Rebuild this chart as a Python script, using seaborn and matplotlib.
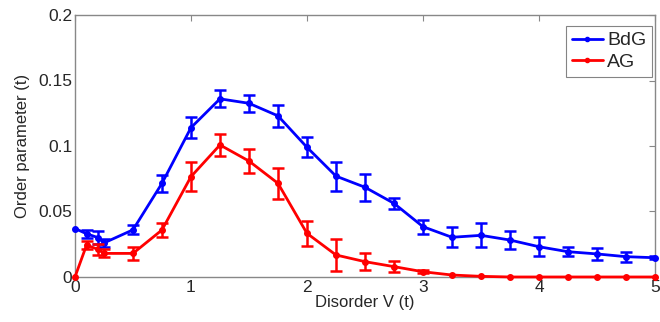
import numpy as np
import pandas as pd
import seaborn as sns
import matplotlib
matplotlib.use("Agg")
import matplotlib.pyplot as plt

V = [0, 0.1, 0.2, 0.25, 0.5, 0.75, 1.0, 1.25, 1.5, 1.75, 2.0, 2.25, 2.5, 2.75,
     3.0, 3.25, 3.5, 3.75, 4.0, 4.25, 4.5, 4.75, 5.0]
bdg = [0.037, 0.033, 0.030, 0.026, 0.036, 0.0715, 0.114, 0.136, 0.1326, 0.123,
       0.099, 0.077, 0.0685, 0.0562, 0.0384, 0.0303, 0.0318, 0.0282, 0.0231,
       0.0193, 0.0176, 0.0155, 0.0147]
bdg_err = [0.0, 0.003, 0.005, 0.003, 0.0034, 0.0066, 0.008, 0.0066, 0.0064, 0.0083,
           0.0075, 0.011, 0.0104, 0.0043, 0.0053, 0.0076, 0.0092, 0.0072, 0.0074,
           0.0034, 0.0045, 0.0038, 0.001]
ag = [0.0, 0.0244, 0.021, 0.018, 0.018, 0.0359, 0.0766, 0.1008, 0.0885, 0.0715,
      0.0333, 0.0168, 0.0117, 0.0079, 0.004, 0.0015, 0.0005, 0.0, 0.0, 0.0,
      0.0, 0.0, 0.0]
ag_err = [0.0, 0.003, 0.004, 0.003, 0.0052, 0.0056, 0.0108, 0.0087, 0.0089, 0.012,
          0.0093, 0.0121, 0.0064, 0.0043, 0.001, 0.0, 0.0, 0.0, 0.0, 0.0,
          0.0, 0.0, 0.0]
xticks = [0, 1, 2, 3, 4, 5]
yticks = [0, 0.05, 0.1, 0.15, 0.2]
ytick_labels = ["0", "0.05", "0.1", "0.15", "0.2"]

sns.set_style("white")
plt.rcParams['font.family'] = ['Liberation Sans', 'DejaVu Sans']

df = pd.DataFrame({
    "V": V * 2,
    "val": bdg + ag,
    "err": bdg_err + ag_err,
    "series": ["BdG"] * len(V) + ["AG"] * len(V),
})

fig = plt.figure(figsize=(6.6, 3.22), dpi=100)
ax = fig.add_axes([0.1136, 0.1398, 0.8788, 0.8136])

palette = {"BdG": "#0000ff", "AG": "#ff0000"}
sns.lineplot(data=df, x="V", y="val", hue="series", palette=palette, ax=ax,
             marker="o", markersize=4, linewidth=2, markeredgewidth=1,
             legend=True, zorder=3)
for ln in ax.lines:
    ln.set_markeredgecolor(ln.get_color())
    ln.set_clip_on(False)
for name in ["BdG", "AG"]:
    sub = df[df.series == name]
    m = sub.err > 0
    ax.errorbar(sub.V[m], sub.val[m], yerr=sub.err[m], fmt="none",
                ecolor=palette[name], elinewidth=1.8, capsize=4.5,
                capthick=1.8, zorder=3)

ax.set_xlim(0, 5)
ax.set_ylim(0, 0.2)
ax.set_xticks(xticks)
ax.set_yticks(yticks)
ax.set_yticklabels(ytick_labels)
ax.set_xlabel("Disorder V (t)", fontsize=12, labelpad=0)
ax.set_ylabel("Order parameter (t)", fontsize=12, labelpad=6)
ax.tick_params(axis="both", labelsize=12.5, direction="in", length=4,
               color="#888888", top=True, right=True, pad=2)
for s in ax.spines.values():
    s.set_color("#888888")
    s.set_linewidth(1)

leg = ax.legend(loc="upper right", fontsize=14, frameon=True, fancybox=False,
                handlelength=1.6, handletextpad=0.2, borderpad=0.3,
                labelspacing=0.2, borderaxespad=0.0,
                bbox_to_anchor=(652 / 660, (322 - 26) / 322),
                bbox_transform=fig.transFigure)
leg.get_frame().set_edgecolor("#666666")
leg.get_frame().set_linewidth(0.8)
for h in leg.get_lines():
    h.set_markeredgecolor(h.get_color())
    h.set_markersize(3)

fig.savefig("out.png", dpi=100)
